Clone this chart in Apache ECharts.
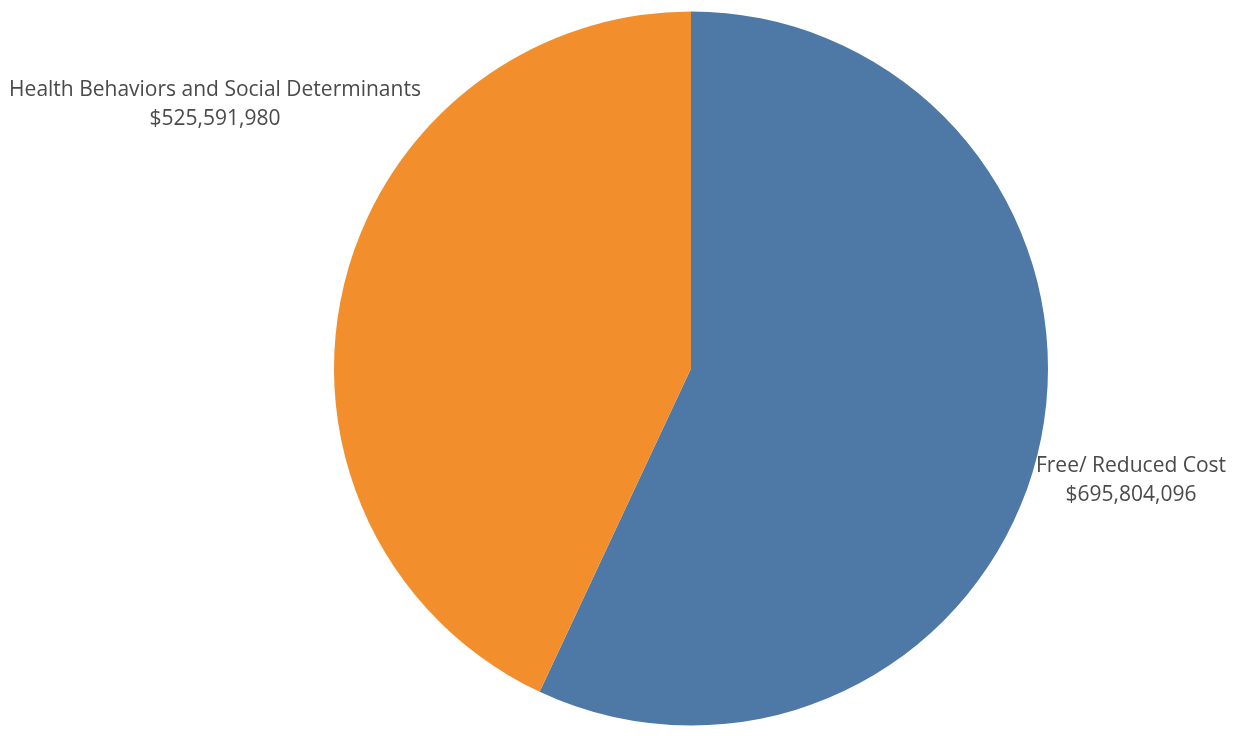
<!DOCTYPE html>
<html>
<head>
<meta charset="utf-8">
<script src="https://cdn.jsdelivr.net/npm/echarts@6/dist/echarts.min.js"></script>
<style>html,body{margin:0;padding:0;background:#fff;}#c{width:1245px;height:736px;}</style>
</head>
<body>
<div id="c"></div>
<script>
const categories = ['Free/ Reduced Cost', 'Health Behaviors and Social Determinants'];
const values = [695804096, 525591980];
const colors = ['#4e79a7', '#f28e2b'];
const labelAnchors = [[1131, 481], [215, 105]];

const chart = echarts.init(document.getElementById('c'));
const fmt = v => '$' + v.toLocaleString('en-US');
chart.setOption({
  animation: false,
  series: [{
    type: 'pie',
    center: [691, 368.5],
    radius: [0, 357],
    startAngle: 90,
    clockwise: true,
    data: categories.map((c, i) => ({ name: c, value: values[i], itemStyle: { color: colors[i] } })),
    label: {
      show: true,
      position: 'outside',
      formatter: p => p.name + '\n' + fmt(p.value),
      fontFamily: 'Open Sans',
      fontSize: 21,
      lineHeight: 29,
      color: '#4a4a4a',
      align: 'center',
      overflow: 'none'
    },
    labelLine: { show: false },
    labelLayout: p => ({ x: labelAnchors[p.dataIndex][0], y: labelAnchors[p.dataIndex][1], align: 'center', verticalAlign: 'middle', width: 600 }),
    emphasis: { disabled: true }
  }]
});
</script>
</body>
</html>
